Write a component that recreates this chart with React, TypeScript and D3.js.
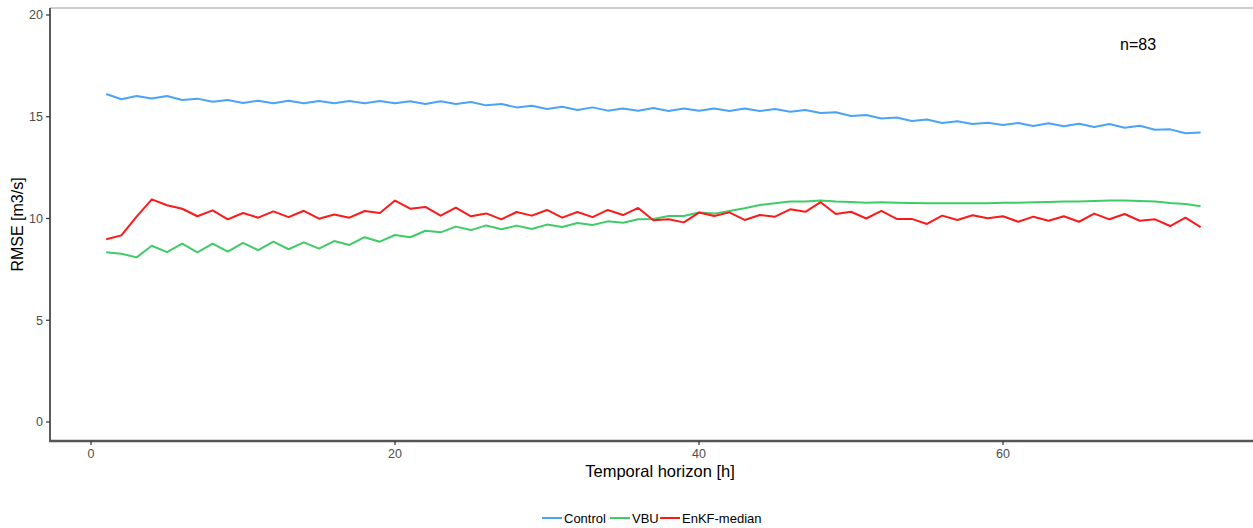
import React from 'react';
import * as d3 from 'd3';

// forecast lead time (h)
const hours = [
  1, 2, 3, 4, 5, 6, 7, 8, 9, 10, 11, 12, 13, 14, 15, 16, 17, 18, 19, 20,
  21, 22, 23, 24, 25, 26, 27, 28, 29, 30, 31, 32, 33, 34, 35, 36, 37, 38, 39, 40,
  41, 42, 43, 44, 45, 46, 47, 48, 49, 50, 51, 52, 53, 54, 55, 56, 57, 58, 59, 60,
  61, 62, 63, 64, 65, 66, 67, 68, 69, 70, 71, 72, 73,
];

const control = [
  16.12, 15.86, 16.02, 15.9, 16.02, 15.82, 15.89, 15.74, 15.82, 15.68, 15.79, 15.66, 15.79, 15.66, 15.77, 15.66, 15.77, 15.66, 15.77, 15.66,
  15.76, 15.63, 15.76, 15.63, 15.72, 15.56, 15.63, 15.46, 15.54, 15.38, 15.49, 15.33, 15.46, 15.3, 15.41, 15.3, 15.43, 15.28, 15.4, 15.3,
  15.4, 15.28, 15.4, 15.28, 15.38, 15.25, 15.33, 15.18, 15.22, 15.04, 15.09, 14.91, 14.96, 14.79, 14.86, 14.69, 14.78, 14.64, 14.71, 14.59,
  14.69, 14.55, 14.68, 14.53, 14.66, 14.5, 14.64, 14.46, 14.56, 14.36, 14.38, 14.19, 14.22,
];

const vbu = [
  8.34, 8.27, 8.09, 8.66, 8.35, 8.76, 8.34, 8.76, 8.37, 8.8, 8.44, 8.86, 8.49, 8.83, 8.52, 8.89, 8.7, 9.08, 8.86, 9.19,
  9.08, 9.4, 9.32, 9.6, 9.43, 9.66, 9.47, 9.65, 9.48, 9.7, 9.58, 9.78, 9.68, 9.86, 9.79, 9.96, 9.98, 10.12, 10.12, 10.29,
  10.24, 10.37, 10.5, 10.66, 10.75, 10.83, 10.84, 10.88, 10.83, 10.81, 10.78, 10.8, 10.78, 10.76, 10.75, 10.75, 10.75, 10.75, 10.75, 10.78,
  10.78, 10.8, 10.81, 10.83, 10.84, 10.86, 10.88, 10.88, 10.86, 10.83, 10.76, 10.71, 10.6,
];

const enkfMedian = [
  8.98, 9.17, 10.09, 10.94, 10.65, 10.48, 10.11, 10.4, 9.96, 10.27, 10.04, 10.35, 10.07, 10.38, 9.99, 10.2, 10.04, 10.37, 10.27, 10.88,
  10.48, 10.57, 10.14, 10.53, 10.11, 10.25, 9.96, 10.32, 10.14, 10.42, 10.04, 10.32, 10.07, 10.42, 10.17, 10.52, 9.91, 9.96, 9.81, 10.29,
  10.12, 10.3, 9.93, 10.17, 10.09, 10.45, 10.33, 10.8, 10.22, 10.33, 10.0, 10.37, 9.98, 9.98, 9.73, 10.14, 9.93, 10.16, 10.01, 10.11,
  9.84, 10.09, 9.89, 10.11, 9.84, 10.24, 9.96, 10.22, 9.89, 9.96, 9.63, 10.04, 9.58,
];

const seriesNames = ['Control', 'VBU', 'EnKF-median'];
const seriesColors = ['#4aa3f7', '#3fcb68', '#fb1a1a'];
const xTicks = [0, 20, 40, 60];
const yTicks = [0, 5, 10, 15, 20];

const W = 1253;
const H = 528;
const FONT = '"Liberation Sans", Arial, sans-serif';

export default function App() {
  // panel box
  const left = 50;
  const top = 8;
  const bottom = 441;
  const right = W;

  const x = d3.scaleLinear().domain([0, 60]).range([91, 1003]);
  const y = d3.scaleLinear().domain([0, 20]).range([422, 15]);

  const line = d3
    .line<number>()
    .x((_, i) => x(hours[i]))
    .y((d) => y(d));

  const series = [control, vbu, enkfMedian];

  // legend layout
  const legendY = 518;
  const legendItems = [
    { x: 542, label: seriesNames[0] },
    { x: 610, label: seriesNames[1] },
    { x: 660, label: seriesNames[2] },
  ];

  return (
    <svg
      width={W}
      height={H}
      style={{ position: 'absolute', left: 0, top: 0, background: '#fff' }}
      fontFamily={FONT}
    >
      {/* top border */}
      <line x1={left} x2={right} y1={top} y2={top} stroke="#9a9a9a" strokeWidth={1} />

      {series.map((s, k) => (
        <path
          key={seriesNames[k]}
          d={line(s) ?? ''}
          fill="none"
          stroke={seriesColors[k]}
          strokeWidth={2}
          strokeLinejoin="round"
        />
      ))}

      {/* y axis */}
      <line x1={left} x2={left} y1={top} y2={bottom} stroke="#333" strokeWidth={1.6} />
      {yTicks.map((t) => (
        <g key={t} transform={`translate(0,${y(t)})`}>
          <line x1={left - 4} x2={left} stroke="#333" strokeWidth={1.2} />
          <text x={left - 7} dy="0.35em" textAnchor="end" fontSize={12.5} fill="#4d4d4d">
            {t}
          </text>
        </g>
      ))}

      {/* x axis */}
      <line x1={left - 1} x2={right} y1={bottom} y2={bottom} stroke="#555" strokeWidth={2.5} />
      {xTicks.map((t) => (
        <g key={t} transform={`translate(${x(t)},0)`}>
          <line y1={bottom} y2={bottom + 4} stroke="#333" strokeWidth={1.2} />
          <text y={bottom + 17} textAnchor="middle" fontSize={12.5} fill="#4d4d4d">
            {t}
          </text>
        </g>
      ))}

      <text x={660} y={477} textAnchor="middle" fontSize={16.5} fill="#000">
        Temporal horizon [h]
      </text>
      <text
        transform={`translate(23,${(top + bottom) / 2}) rotate(-90)`}
        textAnchor="middle"
        fontSize={16}
        fill="#000"
      >
        RMSE [m3/s]
      </text>

      <text x={1120} y={50} fontSize={16} fill="#000">
        n=83
      </text>

      {/* legend */}
      {legendItems.map((it, k) => (
        <g key={it.label}>
          <line
            x1={it.x}
            x2={it.x + 20}
            y1={legendY}
            y2={legendY}
            stroke={seriesColors[k]}
            strokeWidth={2}
          />
          <text x={it.x + 22} y={legendY} dy="0.35em" fontSize={13} fill="#000">
            {it.label}
          </text>
        </g>
      ))}
    </svg>
  );
}
